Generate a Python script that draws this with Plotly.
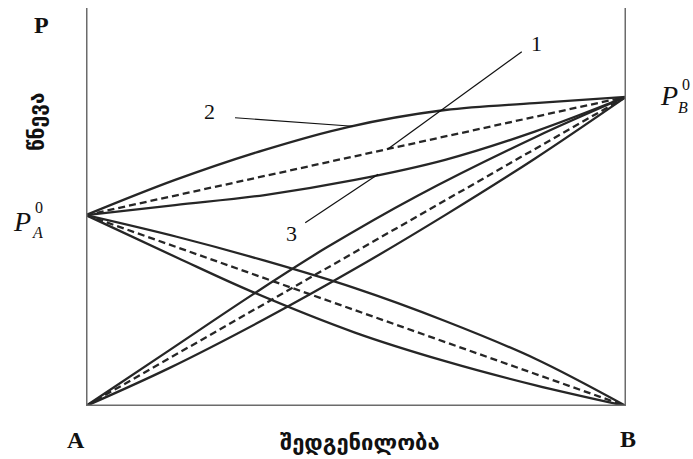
import plotly.graph_objects as go

# Vapour pressure of a binary A–B mixture versus composition (mole fraction of B)
P_A0 = 49.4
P_B0 = 80.0

# ideal solution (Raoult's law) – straight dashed lines
x_ideal = [0.0, 1.0]
p_ideal_total = [P_A0, P_B0]
p_ideal_A = [P_A0, 0.0]
p_ideal_B = [0.0, P_B0]

# positive deviation
x_tot_pos = [0.0, 0.165, 0.331, 0.485, 0.665, 0.831, 1.0]
p_tot_pos = [P_A0, 58.5, 66.3, 72.2, 76.6, 78.4, P_B0]
x_A_pos = [0.0, 0.168, 0.331, 0.498, 0.665, 0.831, 1.0]
p_A_pos = [P_A0, 43.8, 37.6, 30.5, 22.0, 12.3, 0.0]
x_B_pos = [0.0, 0.154, 0.307, 0.443, 0.615, 0.831, 1.0]
p_B_pos = [0.0, 14.4, 28.7, 40.8, 54.5, 69.5, P_B0]

# negative deviation
x_tot_neg = [0.0, 0.165, 0.331, 0.498, 0.665, 0.831, 1.0]
p_tot_neg = [P_A0, 52.0, 54.6, 58.5, 63.7, 71.0, P_B0]
x_A_neg = [0.0, 0.17, 0.307, 0.498, 0.665, 0.831, 1.0]
p_A_neg = [P_A0, 38.3, 29.6, 19.0, 11.6, 5.4, 0.0]
x_B_neg = [0.0, 0.154, 0.331, 0.498, 0.665, 0.831, 1.0]
p_B_neg = [0.0, 9.8, 22.5, 35.5, 49.4, 64.0, P_B0]

# callout labels: text, label position, leader start, leader end
callouts = [
    ("1", (0.835, 93.8), (0.807, 91.7), (0.559, 66.5)),
    ("2", (0.228, 76.3), (0.276, 74.6), (0.494, 72.4)),
    ("3", (0.381, 44.6), (0.406, 47.4), (0.541, 60.0)),
]

LINE = "#262626"
SERIF = "Liberation Serif, DejaVu Serif, serif"
GEO = "DejaVu Sans, sans-serif"

# figure geometry (plot area in pixels)
W, H = 693, 459
L, R, T, B = 86, 67, 8, 53
PW, PH = W - L - R, H - T - B

fig = go.Figure()

def curve(x, y, dash="solid"):
    fig.add_trace(go.Scatter(
        x=x, y=y, mode="lines",
        line=dict(color=LINE, width=2.3, dash=dash, shape="spline", smoothing=1.0),
        hoverinfo="skip", showlegend=False,
    ))

for xs, ys in [(x_tot_pos, p_tot_pos), (x_A_pos, p_A_pos), (x_B_pos, p_B_pos),
               (x_tot_neg, p_tot_neg), (x_A_neg, p_A_neg), (x_B_neg, p_B_neg)]:
    curve(xs, ys)
for ys in [p_ideal_total, p_ideal_A, p_ideal_B]:
    curve(x_ideal, ys, dash="7px,4px")

# frame: two vertical axes and the base line
AX = "#6b6b6b"
fig.add_shape(type="line", xref="x", yref="y", x0=0, x1=0, y0=0, y1=103, line=dict(color=AX, width=3))
fig.add_shape(type="line", xref="x", yref="y", x0=1, x1=1, y0=0, y1=104.5, line=dict(color=AX, width=3))
fig.add_shape(type="line", xref="x", yref="y", x0=0, x1=1, y0=0, y1=0, line=dict(color=AX, width=3))

annotations = []
for txt, (lx, ly), (sx, sy), (ex, ey) in callouts:
    fig.add_shape(type="line", xref="x", yref="y", x0=sx, y0=sy, x1=ex, y1=ey,
                  line=dict(color="#111", width=1.2))
    annotations.append(dict(x=lx, y=ly, xref="x", yref="y", text=txt, showarrow=False,
                            font=dict(family=SERIF, size=22, color="#111")))

def paper_text(px, py, text, size, bold=False, italic=False, angle=0, family=SERIF):
    t = text
    if italic:
        t = "<i>" + t + "</i>"
    if bold:
        t = "<b>" + t + "</b>"
    annotations.append(dict(x=(px - L) / PW, y=(H - B - py) / PH, xref="paper", yref="paper",
                            text=t, showarrow=False, textangle=angle,
                            xanchor="center", yanchor="middle",
                            font=dict(family=family, size=size, color="#111")))

# axis letters and titles
paper_text(41, 25, "P", 24, bold=True)
paper_text(76, 440, "A", 24, bold=True)
paper_text(628, 439, "B", 24, bold=True)
paper_text(360, 443, "შედგენილობა", 22, bold=True, family=GEO)
paper_text(37, 122, "წნევა", 21, bold=True, angle=-90, family=GEO)

# pure-component vapour pressures P_A^0 and P_B^0
paper_text(22, 221, "P", 28, italic=True)
paper_text(39, 207, "0", 16)
paper_text(37, 232, "A", 16, italic=True)
paper_text(669, 96, "P", 28, italic=True)
paper_text(686, 84, "0", 16)
paper_text(683, 108, "B", 16, italic=True)

fig.update_layout(
    width=W, height=H,
    margin=dict(l=L, r=R, t=T, b=B),
    paper_bgcolor="white", plot_bgcolor="white",
    xaxis=dict(range=[0, 1], visible=False, fixedrange=True),
    yaxis=dict(range=[0, 103], visible=False, fixedrange=True),
    annotations=annotations,
    showlegend=False,
)

fig.write_html("out.html")
